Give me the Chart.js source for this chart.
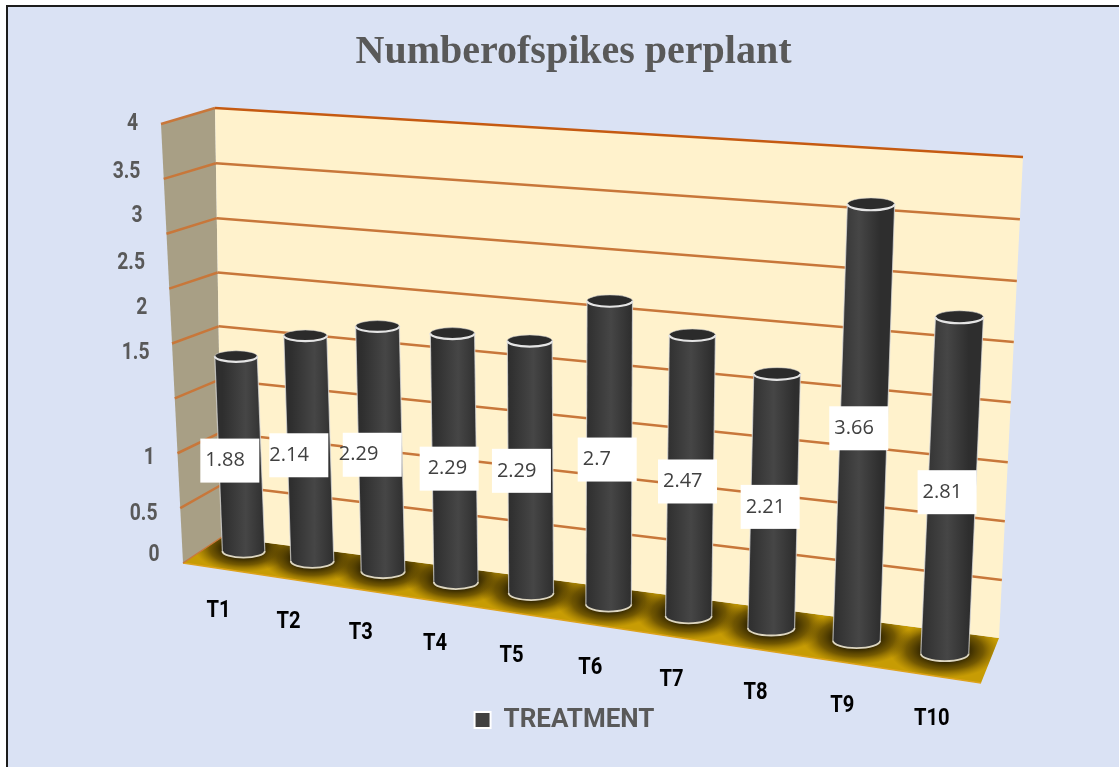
<!DOCTYPE html>
<html>
<head>
<meta charset="utf-8">
<title>Number of spikes per plant</title>
<script src="https://cdn.jsdelivr.net/npm/chart.js@4"></script>
<style>
    html, body { margin: 0; padding: 0; background: #fff; }
    canvas { display: block; }
</style>
</head>
<body>
<canvas id="spikes-chart" width="1119" height="767"></canvas>
<script>
const categories = ['T1', 'T2', 'T3', 'T4', 'T5', 'T6', 'T7', 'T8', 'T9', 'T10'];
const spikesPerPlant = [1.88, 2.14, 2.29, 2.29, 2.29, 2.7, 2.47, 2.21, 3.66, 2.81];
const seriesName = 'TREATMENT';
const chartTitle = 'Numberofspikes perplant';

// the picture is a tilted 3D box, these are its corners on the page
const backWall = [[222, 537], [999, 638], [1023, 157], [215, 108]];
const barPlane = [[210, 546], [990, 660], [1014, 169], [192, 124]];
const wallFrontTop = [161, 124];
const wallFrontBottom = [183, 563];
const floorFrontRight = [981, 683];

// hand placed text in the original
const yLabelTops = { 4: 124, 3.5: 172, 3: 216, 2.5: 263, 2: 308, 1.5: 353, 1: 458, 0.5: 514, 0: 555 };
const labelNudge = [[-10, 7], [-10, 7], [-8, 6], [-5, 11], [-9, 4], [-2, 7], [-3, 6], [-4, 6], [-5, 6], [-5, 7]];
const textInset = [5, 0, -4, 8, 5, 5, 5, 5, 5, 5];

function homography(q) {
    const [[x0, y0], [x1, y1], [x2, y2], [x3, y3]] = q;
    const dx1 = x1 - x2, dx2 = x3 - x2, dx3 = x0 - x1 + x2 - x3;
    const dy1 = y1 - y2, dy2 = y3 - y2, dy3 = y0 - y1 + y2 - y3;
    const den = dx1 * dy2 - dx2 * dy1;
    const g = (dx3 * dy2 - dx2 * dy3) / den;
    const h = (dx1 * dy3 - dx3 * dy1) / den;
    const a = x1 - x0 + g * x1, b = x3 - x0 + h * x3;
    const d = y1 - y0 + g * y1, e = y3 - y0 + h * y3;
    return (u, v) => {
        const w = g * u + h * v + 1;
        return [(a * u + b * v + x0) / w, (d * u + e * v + y0) / w];
    };
}

const toWall = homography(backWall);
const toBars = homography(barPlane);

function polygon(ctx, pts) {
    ctx.beginPath();
    pts.forEach((p, i) => i ? ctx.lineTo(p[0], p[1]) : ctx.moveTo(p[0], p[1]));
    ctx.closePath();
}

function line(ctx, a, b, color, width) {
    ctx.strokeStyle = color;
    ctx.lineWidth = width;
    ctx.beginPath();
    ctx.moveTo(a[0], a[1]);
    ctx.lineTo(b[0], b[1]);
    ctx.stroke();
}

// no condensed face on the box, so squeeze the text sideways
function narrowText(ctx, text, x, y) {
    ctx.save();
    ctx.translate(x, y);
    ctx.scale(0.84, 1);
    ctx.fillText(text, 0, 0);
    ctx.restore();
}

function unitX(chart, px) {
    const s = chart.scales.x;
    return (px - s.left) / (s.right - s.left);
}

function unitY(chart, py) {
    const s = chart.scales.y;
    return (s.bottom - py) / (s.bottom - s.top);
}

function barShape(chart, el) {
    const uC = unitX(chart, el.x);
    const top = toBars(uC, unitY(chart, el.y));
    const base = toBars(uC, unitY(chart, el.base));
    // cylinders grow less than the wall does towards the right
    const half = el.width * (0.655 + 0.095 * uC) / 2;
    return { top, base, half };
}

function drawBox(chart) {
    const ctx = chart.ctx;
    const yScale = chart.scales.y;

    // floor with soft shadows round the cylinders
    const floor = [wallFrontBottom, floorFrontRight, backWall[1], backWall[0]];
    ctx.save();
    polygon(ctx, floor);
    ctx.fillStyle = '#c79c04';
    ctx.fill();
    ctx.clip();
    chart.getDatasetMeta(0).data.forEach(el => {
        const s = barShape(chart, el);
        ctx.save();
        ctx.translate(s.base[0], s.base[1] - 3);
        ctx.scale(1, 0.5);
        const rad = s.half * 2.3;
        const g = ctx.createRadialGradient(0, 0, rad * 0.4, 0, 0, rad);
        g.addColorStop(0, 'rgba(45,34,0,1)');
        g.addColorStop(0.5, 'rgba(80,60,0,0.7)');
        g.addColorStop(1, 'rgba(120,92,0,0)');
        ctx.fillStyle = g;
        ctx.fillRect(-rad, -rad, rad * 2, rad * 2);
        ctx.restore();
    });
    ctx.restore();
    line(ctx, wallFrontBottom, floorFrontRight, '#dda21c', 1.5);

    // left wall
    polygon(ctx, [wallFrontBottom, backWall[0], backWall[3], wallFrontTop]);
    ctx.fillStyle = '#a89f85';
    ctx.fill();

    // back wall
    polygon(ctx, backWall);
    ctx.fillStyle = '#fff2cc';
    ctx.fill();

    // gridlines from the real value axis
    yScale.ticks.forEach(t => {
        const v = unitY(chart, yScale.getPixelForValue(t.value));
        const k = 1 - v;
        const outer = [
            wallFrontTop[0] + (wallFrontBottom[0] - wallFrontTop[0]) * k,
            wallFrontTop[1] + (wallFrontBottom[1] - wallFrontTop[1]) * k
        ];
        const width = t.value === 0 ? 1.5 : 2.5;
        line(ctx, outer, toWall(0, v), '#c8773a', width);
        if (t.value > 0) line(ctx, toWall(0, v), toWall(1, v), t.value === 4 ? '#c55a11' : '#c8773a', width);
    });
}

function drawCylinder(ctx, s) {
    const [tx, ty] = s.top;
    const [bx, by] = s.base;
    const r = s.half;
    const ry = r * 0.26;
    const baseRy = r * 0.32;

    const g = ctx.createLinearGradient(bx - r, 0, bx + r, 0);
    g.addColorStop(0, '#2e2e2e');
    g.addColorStop(0.55, '#464646');
    g.addColorStop(1, '#2e2e2e');

    ctx.beginPath();
    ctx.moveTo(tx - r, ty);
    ctx.lineTo(bx - r, by);
    ctx.ellipse(bx, by, r, baseRy, 0, Math.PI, 0, true);
    ctx.lineTo(tx + r, ty);
    ctx.closePath();
    ctx.fillStyle = g;
    ctx.fill();

    // pale rim down the sides and round the foot
    line(ctx, [tx - r, ty], [bx - r, by], 'rgba(225,225,225,0.7)', 1.2);
    line(ctx, [tx + r, ty], [bx + r, by], 'rgba(225,225,225,0.7)', 1.2);
    ctx.beginPath();
    ctx.ellipse(bx, by, r, baseRy, 0, Math.PI, 0, true);
    ctx.strokeStyle = '#ddd6c0';
    ctx.lineWidth = 1.8;
    ctx.stroke();

    // open top
    ctx.beginPath();
    ctx.ellipse(tx, ty, r, ry, 0, 0, Math.PI * 2);
    ctx.fillStyle = '#2b2b2b';
    ctx.fill();
    ctx.strokeStyle = 'rgba(215,215,215,0.55)';
    ctx.lineWidth = 1;
    ctx.stroke();
    ctx.beginPath();
    ctx.ellipse(tx, ty, r, ry, 0, 0, Math.PI);
    ctx.strokeStyle = '#e4e4e4';
    ctx.lineWidth = 2.2;
    ctx.stroke();
}

const box3d = {
    id: 'box3d',
    beforeDraw(chart) {
        const ctx = chart.ctx;
        ctx.save();
        ctx.fillStyle = '#dae2f4';
        ctx.fillRect(6, 5, chart.width, chart.height);
        ctx.fillStyle = '#1c1c1c';
        ctx.fillRect(6, 5, chart.width, 2);
        ctx.fillRect(6, 5, 2, chart.height);
        ctx.restore();
    },
    // title sits a little right of the legend in the original
    afterLayout(chart) {
        chart.titleBlock.left += 9;
        chart.titleBlock.right += 9;
    },
    beforeDatasetsDraw(chart) {
        chart.ctx.save();
        drawBox(chart);
        chart.ctx.restore();
    },
    // the library's flat bars are swapped for cylinders below
    beforeDatasetDraw() {
        return false;
    },
    afterDatasetsDraw(chart) {
        const ctx = chart.ctx;
        const els = chart.getDatasetMeta(0).data;
        const shapes = els.map(el => barShape(chart, el));
        ctx.save();
        shapes.forEach(s => drawCylinder(ctx, s));

        // data labels in white boxes
        ctx.textBaseline = 'middle';
        ctx.textAlign = 'left';
        ctx.font = '20px "Open Sans", sans-serif';
        shapes.forEach((s, i) => {
            const cx = (s.top[0] + s.base[0]) / 2 + labelNudge[i][0];
            const cy = (s.top[1] + s.base[1]) / 2 + labelNudge[i][1];
            ctx.fillStyle = '#fff';
            ctx.fillRect(cx - 29.5, cy - 22, 59, 44);
            ctx.fillStyle = '#404040';
            ctx.fillText(String(spikesPerPlant[i]), cx - 29.5 + textInset[i], cy);
        });

        // category labels under the floor
        const xTicks = chart.scales.x.ticks;
        ctx.fillStyle = '#000';
        ctx.textAlign = 'center';
        ctx.font = 'bold 24px Roboto, sans-serif';
        shapes.forEach((s, i) => {
            const k = i / (shapes.length - 1);
            narrowText(ctx, xTicks[i].label, s.base[0] - 25 + 12 * k, s.base[1] + 60 + 6 * k);
        });

        // value labels, set by hand in the original so they drift off the lines
        ctx.fillStyle = '#595959';
        ctx.textAlign = 'right';
        ctx.font = 'bold 23px Roboto, sans-serif';
        chart.scales.y.ticks.forEach(t => {
            const top = yLabelTops[t.value];
            const k = (top - wallFrontTop[1]) / (wallFrontBottom[1] - wallFrontTop[1]);
            const edge = wallFrontTop[0] + (wallFrontBottom[0] - wallFrontTop[0]) * k;
            narrowText(ctx, t.label, edge - 23, top);
        });
        ctx.restore();
    }
};

new Chart(document.getElementById('spikes-chart'), {
    type: 'bar',
    data: {
        labels: categories,
        datasets: [{
            label: seriesName,
            data: spikesPerPlant,
            backgroundColor: '#404040',
            borderColor: '#ffffff',
            borderWidth: 2,
            categoryPercentage: 1,
            barPercentage: 0.58
        }]
    },
    options: {
        responsive: false,
        animation: false,
        layout: { padding: { left: 10, bottom: 24, top: 19 } },
        scales: {
            x: { display: false },
            y: { display: false, min: 0, max: 4, ticks: { stepSize: 0.5, callback: v => String(v) } }
        },
        plugins: {
            tooltip: { enabled: false },
            title: {
                display: true,
                text: chartTitle,
                color: '#595959',
                font: { family: '"Liberation Serif", serif', size: 40, weight: 'bold' }
            },
            legend: {
                position: 'bottom',
                labels: {
                    color: '#595959',
                    boxWidth: 16,
                    boxHeight: 16,
                    font: { family: 'Roboto, sans-serif', size: 26, weight: 'bold' }
                }
            }
        }
    },
    plugins: [box3d]
});
</script>
</body>
</html>
